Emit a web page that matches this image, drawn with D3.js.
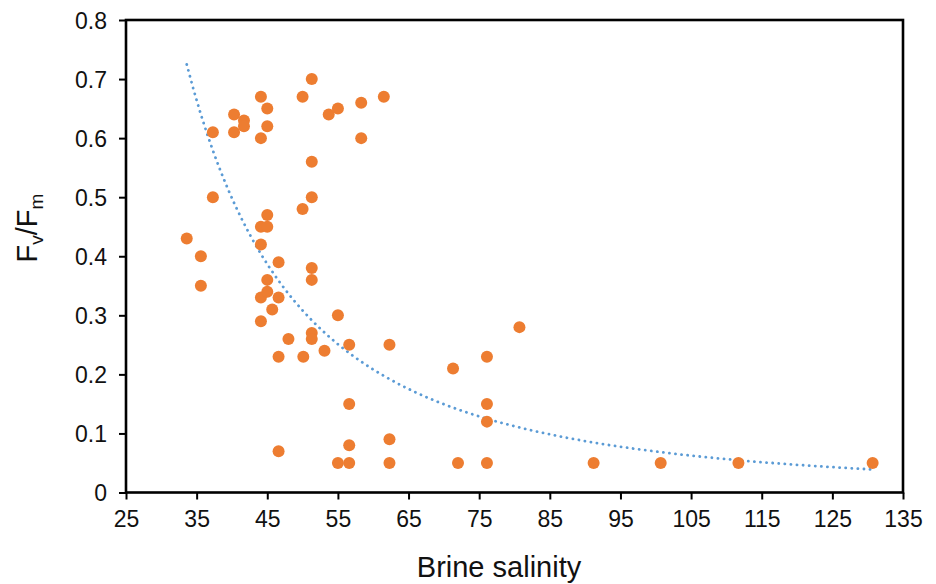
<!DOCTYPE html>
<html>
<head>
<meta charset="utf-8">
<script src="https://cdn.jsdelivr.net/npm/d3@7"></script>
<style>
  body { margin: 0; background: #fff; }
  text { font-family: "Liberation Sans", Arial, sans-serif; fill: #111; }
</style>
</head>
<body>
<script>
// brine salinity vs Fv/Fm
const salinity = [
  33.6, 35.6, 35.6, 37.3, 37.3, 40.3, 40.3, 41.7, 41.7, 44.1,
  45.0, 45.0, 44.1, 50.0, 51.3, 53.7, 55.0, 58.3, 61.5, 58.3,
  51.3, 51.3, 50.0, 45.0, 44.1, 45.0, 44.1, 46.6, 51.3, 51.3,
  45.0, 44.1, 45.0, 46.6, 45.7, 44.1, 55.0, 48.0, 51.3, 51.3,
  53.1, 46.6, 50.1, 56.6, 62.3, 56.6, 56.6, 46.6, 55.0, 56.6,
  62.3, 62.3, 71.3, 72.0, 76.1, 76.1, 76.1, 76.1, 80.7, 91.2,
  100.7, 111.7, 130.7
];
const fvfm = [
  0.43, 0.40, 0.35, 0.61, 0.50, 0.64, 0.61, 0.63, 0.62, 0.67,
  0.65, 0.62, 0.60, 0.67, 0.70, 0.64, 0.65, 0.66, 0.67, 0.60,
  0.56, 0.50, 0.48, 0.47, 0.45, 0.45, 0.42, 0.39, 0.38, 0.36,
  0.36, 0.33, 0.34, 0.33, 0.31, 0.29, 0.30, 0.26, 0.27, 0.26,
  0.24, 0.23, 0.23, 0.25, 0.25, 0.15, 0.08, 0.07, 0.05, 0.05,
  0.09, 0.05, 0.21, 0.05, 0.23, 0.15, 0.12, 0.05, 0.28, 0.05,
  0.05, 0.05, 0.05
];
const xTicks = [25, 35, 45, 55, 65, 75, 85, 95, 105, 115, 125, 135];
const yTicks = [0, 0.1, 0.2, 0.3, 0.4, 0.5, 0.6, 0.7, 0.8];

const w = 936;
const h = 584;
const mLeft = 126, mRight = 903, mTop = 20, mBottom = 492.5;

const points = salinity.map((s, i) => ({ x: s, y: fvfm[i] }));

const x = d3.scaleLinear().domain([25, 135]).range([mLeft, mRight]);
const y = d3.scaleLinear().domain([0, 0.8]).range([mBottom, mTop]);

const svg = d3.select("body")
  .append("svg")
  .attr("width", w)
  .attr("height", h);

// power trendline (least squares on ln x, ln y), like a spreadsheet "power" fit
const lx = points.map(d => Math.log(d.x));
const ly = points.map(d => Math.log(d.y));
const mx = d3.mean(lx), my = d3.mean(ly);
const b = d3.sum(lx, (v, i) => (v - mx) * (ly[i] - my)) / d3.sum(lx, v => (v - mx) * (v - mx));
const a = Math.exp(my - b * mx);
const [xMin, xMax] = d3.extent(salinity);
const trend = d3.range(0, 101).map(i => {
  const xv = xMin + (xMax - xMin) * i / 100;
  return { x: xv, y: a * Math.pow(xv, b) };
});

svg.append("path")
  .datum(trend)
  .attr("d", d3.line().x(d => x(d.x)).y(d => y(d.y)))
  .attr("fill", "none")
  .attr("stroke", "#5B9BD5")
  .attr("stroke-width", 2.8)
  .attr("stroke-linecap", "round")
  .attr("stroke-dasharray", "0.1,6");

svg.selectAll("circle")
  .data(points)
  .join("circle")
  .attr("cx", d => x(d.x))
  .attr("cy", d => y(d.y))
  .attr("r", 6)
  .attr("fill", "#ED7D31");

// axes
const xAxis = svg.append("g")
  .attr("transform", `translate(0,${mBottom})`)
  .call(d3.axisBottom(x).tickValues(xTicks).tickSize(7).tickPadding(11).tickFormat(d3.format("d")));
xAxis.selectAll("text").style("font-size", "23px");

const yAxis = svg.append("g")
  .attr("transform", `translate(${mLeft},0)`)
  .call(d3.axisLeft(y).tickValues(yTicks).tickSize(7).tickPadding(12)
    .tickFormat(d => d === 0 ? "0" : d3.format(".1f")(d)));
yAxis.selectAll("text").style("font-size", "23px").attr("dy", "0.36em");

svg.selectAll(".domain").remove();
svg.selectAll(".tick line").attr("stroke", "#000").attr("stroke-width", 2);

// plot frame
svg.append("rect")
  .attr("x", mLeft)
  .attr("y", mTop)
  .attr("width", mRight - mLeft)
  .attr("height", mBottom - mTop)
  .attr("fill", "none")
  .attr("stroke", "#000")
  .attr("stroke-width", 2.6);

// titles
svg.append("text")
  .attr("x", 499)
  .attr("y", 577)
  .attr("text-anchor", "middle")
  .style("font-size", "29px")
  .text("Brine salinity");

const yt = svg.append("text")
  .attr("transform", "translate(37,228) rotate(-90)")
  .attr("text-anchor", "middle")
  .style("font-size", "29px");
yt.append("tspan").text("F");
yt.append("tspan").text("v").style("font-size", "19px").attr("dy", 6);
yt.append("tspan").text("/F").attr("dy", -6);
yt.append("tspan").text("m").style("font-size", "19px").attr("dy", 6);
</script>
</body>
</html>
